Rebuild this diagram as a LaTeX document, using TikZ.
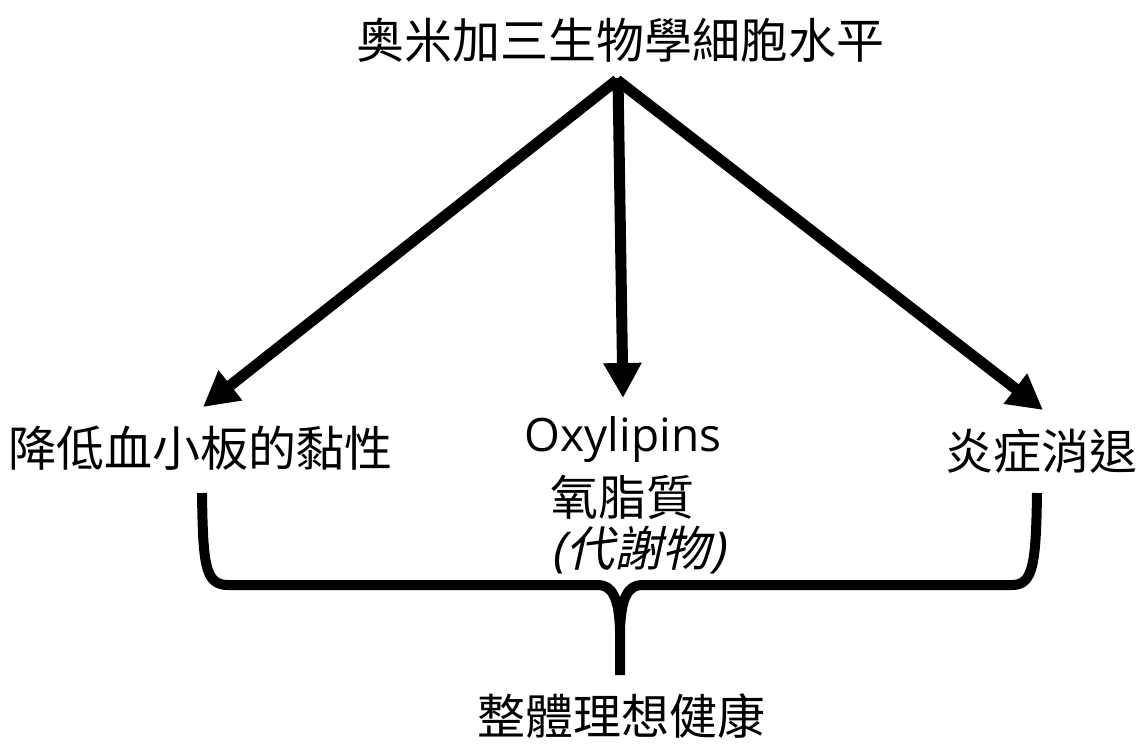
\documentclass[tikz,border=0pt]{standalone}
\usepackage{fontspec}
\setmainfont{Open Sans}
\newfontfamily\cjk{Noto Sans CJK TC}
\newfontfamily\cjkit[FakeSlant=0.22]{Noto Sans CJK TC}
\newfontfamily\latit[FakeSlant=0.22]{Open Sans}
\usetikzlibrary{arrows.meta}
\begin{document}
\begin{tikzpicture}[x=1pt,y=-1pt,
  lbl/.style={inner sep=0pt, font=\fontsize{48}{52}\selectfont\cjk},
  conn/.style={line width=11pt, -{Triangle[length=35pt,width=36pt]}},
  bracestyle/.style={line width=10pt, line join=round}]
\useasboundingbox (0,0) rectangle (1146,746);
\node[lbl] (title) at (620,40) {奥米加三生物學細胞水平};
\node[lbl] (left) at (201,448) {降低血小板的黏性};
\node[inner sep=0pt, font=\fontsize{46}{50}\selectfont] (oxy) at (623,440) {Oxylipins};
\node[lbl] (oxyzh) at (622,497) {氧脂質};
\node[inner sep=0pt, font=\fontsize{48}{52}\selectfont] (meta) at (638,550) {\latit(\cjkit 代謝物\latit)};
\node[lbl] (right) at (1041,451) {炎症消退};
\node[lbl] (bottom) at (621,716) {整體理想健康};
\coordinate (apex) at (617,80);
\coordinate (apexm) at (618,78);
\coordinate (tipL) at (203,407);
\coordinate (tipM) at (623,398);
\coordinate (tipR) at (1043,410);
\draw[conn] (apex) -- (tipL);
\draw[conn] (apexm) -- (tipM);
\draw[conn] (apex) -- (tipR);
% brace
\coordinate (bL) at (202,493);
\coordinate (bR) at (1037,493);
\coordinate (bM) at (620,675);
\draw[bracestyle] (bL) .. controls (203,565) and (205,585) .. (228,585) -- (598,585)
  .. controls (612,585) and (619,598) .. (620,630) -- (bM);
\draw[bracestyle] (bR) .. controls (1036,565) and (1033,585) .. (1012,585) -- (642,585)
  .. controls (628,585) and (621,598) .. (620,630);
\end{tikzpicture}
\end{document}
